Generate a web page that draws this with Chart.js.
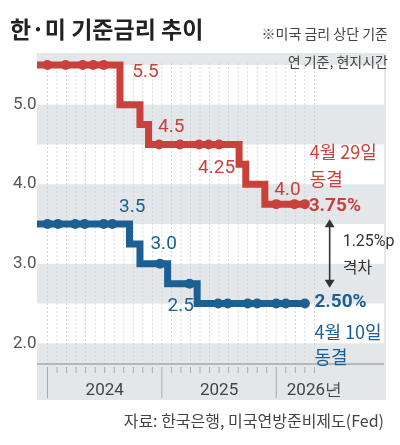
<!DOCTYPE html>
<html><head><meta charset="utf-8">
<script src="https://cdn.jsdelivr.net/npm/chart.js@4"></script>
<style>html,body{margin:0;padding:0;background:#fff}#wrap{width:400px;height:445px}</style>
</head><body><div id="wrap"><canvas id="c" width="400" height="445"></canvas></div>
<script>
// x = months since Jan 2024
const usX = [-1.1, 7.6, 7.6, 9.7, 9.7, 10.6, 10.6, 20.1, 20.1, 20.8, 20.8, 22.8, 22.8, 27];
const usY = [5.5, 5.5, 5.0, 5.0, 4.75, 4.75, 4.5, 4.5, 4.25, 4.25, 4.0, 4.0, 3.75, 3.75];
const usDotX = [0, 1.9, 3.7, 4.8, 5.9, 11.7, 13.9, 15.9, 16.9, 18, 24, 25.9, 27];
const usDotY = [5.5, 5.5, 5.5, 5.5, 5.5, 4.5, 4.5, 4.5, 4.5, 4.5, 3.75, 3.75, 3.75];
const krX = [-1.1, 8.6, 8.6, 9.7, 9.7, 12.6, 12.6, 15.7, 15.7, 27];
const krY = [3.5, 3.5, 3.25, 3.25, 3.0, 3.0, 2.75, 2.75, 2.5, 2.5];
const krDotX = [0, 1.1, 2.9, 3.9, 5.9, 6.8, 11.8, 14.9, 17.9, 18.9, 21, 22, 24, 25, 27];
const krDotY = [3.5, 3.5, 3.5, 3.5, 3.5, 3.5, 3.0, 2.75, 2.5, 2.5, 2.5, 2.5, 2.5, 2.5, 2.5];
const yTicks = [5.0, 4.0, 3.0, 2.0];
const years = ['2024', '2025', '2026년'];

const RED = '#c8413b', BLUE = '#1c6093';
const NUM = '"Liberation Sans Narrow", "Roboto", sans-serif';
const KR = '"Noto Sans CJK KR", sans-serif';

const pts = (xs, ys) => xs.map((x, i) => ({x: x, y: ys[i]}));

const labels = [
  {t: '5.5', x: 8.9, y: 5.41, c: RED, f: NUM, s: 19},
  {t: '4.5', x: 11.6, y: 4.72, c: RED, f: NUM, s: 19},
  {t: '4.25', x: 15.8, y: 4.2, c: RED, f: NUM, s: 19},
  {t: '4.0', x: 23.8, y: 3.93, c: RED, f: NUM, s: 19},
  {t: '4월 29일', x: 27.5, y: 4.4, c: RED, f: KR, s: 18},
  {t: '동결', x: 27.5, y: 4.06, c: RED, f: KR, s: 18},
  {t: '3.75%', x: 27.4, y: 3.72, c: RED, f: NUM, s: 19, b: true},
  {t: '3.5', x: 7.5, y: 3.71, c: BLUE, f: NUM, s: 19},
  {t: '3.0', x: 10.8, y: 3.24, c: BLUE, f: NUM, s: 19},
  {t: '2.5', x: 12.6, y: 2.46, c: BLUE, f: NUM, s: 19},
  {t: '2.50%', x: 28, y: 2.52, c: BLUE, f: NUM, s: 19, b: true},
  {t: '4월 10일', x: 28, y: 2.14, c: BLUE, f: KR, s: 18},
  {t: '동결', x: 28, y: 1.83, c: BLUE, f: KR, s: 18}
];

const deco = {
  id: 'deco',
  beforeDraw(chart) {
    const {ctx, chartArea: a, scales: {x, y}} = chart;
    ctx.save();
    ctx.fillStyle = '#e4e7ea';
    ctx.fillRect(a.left, a.top, a.right - a.left + 2, 400 - a.top);
    ctx.fillStyle = '#ffffff';
    [5.5, 4.5, 3.5, 2.5].forEach(v => {
      ctx.fillRect(a.left, y.getPixelForValue(v), a.right - a.left, y.getPixelForValue(v - 0.5) - y.getPixelForValue(v));
    });
    // dashed monthly grid
    ctx.strokeStyle = '#c9ced3';
    ctx.lineWidth = 0.8;
    ctx.setLineDash([2, 2]);
    for (let m = 0; m <= 28; m++) {
      const px = x.getPixelForValue(m);
      ctx.beginPath(); ctx.moveTo(px, a.top + 10); ctx.lineTo(px, a.bottom); ctx.stroke();
    }
    ctx.setLineDash([]);
    // axis
    ctx.strokeStyle = '#888';
    ctx.lineWidth = 1;
    ctx.beginPath(); ctx.moveTo(a.left, a.bottom); ctx.lineTo(a.right, a.bottom); ctx.stroke();
    ctx.strokeStyle = '#aaa';
    for (let m = 0; m <= 28; m++) {
      const px = x.getPixelForValue(m);
      ctx.beginPath(); ctx.moveTo(px, a.bottom + 3); ctx.lineTo(px, a.bottom + (m % 12 === 0 ? 34 : 9)); ctx.stroke();
    }
    ctx.fillStyle = '#444';
    ctx.font = '17px ' + NUM;
    ctx.textAlign = 'center'; ctx.textBaseline = 'middle';
    years.forEach((t, i) => ctx.fillText(t, x.getPixelForValue(i * 12 + (i === 2 ? 4 : 6)), a.bottom + 27));
    ctx.fillStyle = '#555';
    ctx.textAlign = 'left';
    yTicks.forEach(v => ctx.fillText(v.toFixed(1), 13, y.getPixelForValue(v)));
    ctx.restore();
  },
  afterDraw(chart) {
    const {ctx, scales: {x, y}} = chart;
    ctx.save();
    ctx.textBaseline = 'middle'; ctx.textAlign = 'left';
    labels.forEach(l => {
      ctx.fillStyle = l.c;
      ctx.font = (l.b ? 'bold ' : '') + l.s + 'px ' + l.f;
      ctx.fillText(l.t, x.getPixelForValue(l.x), y.getPixelForValue(l.y));
    });
    // gap arrow
    const ax = x.getPixelForValue(29.6), y1 = y.getPixelForValue(3.56), y2 = y.getPixelForValue(2.7);
    ctx.strokeStyle = '#333'; ctx.fillStyle = '#333'; ctx.lineWidth = 1.6;
    ctx.beginPath(); ctx.moveTo(ax, y1 + 4); ctx.lineTo(ax, y2 - 4); ctx.stroke();
    ctx.beginPath(); ctx.moveTo(ax, y1); ctx.lineTo(ax - 5, y1 + 8); ctx.lineTo(ax + 5, y1 + 8); ctx.fill();
    ctx.beginPath(); ctx.moveTo(ax, y2); ctx.lineTo(ax - 5, y2 - 8); ctx.lineTo(ax + 5, y2 - 8); ctx.fill();
    ctx.font = '16px ' + NUM;
    ctx.fillText('1.25%p', ax + 13, y.getPixelForValue(3.27));
    ctx.font = '16px ' + KR;
    ctx.fillText('격차', ax + 13, y.getPixelForValue(2.96));
    // title & notes
    ctx.fillStyle = '#222';
    ctx.font = 'bold 23px ' + KR;
    ctx.fillText('한·미 기준금리 추이', 10, 29);
    ctx.fillStyle = '#444';
    ctx.font = '14px ' + KR;
    ctx.textAlign = 'right';
    ctx.fillText('※미국 금리 상단 기준', 388, 34);
    ctx.fillText('연 기준, 현지시간', 388, 62);
    ctx.font = '16px ' + KR;
    ctx.fillText('자료: 한국은행, 미국연방준비제도(Fed)', 384, 421);
    ctx.restore();
  }
};

new Chart(document.getElementById('c'), {
  type: 'scatter',
  data: {
    datasets: [
      {data: pts(usX, usY), showLine: true, borderColor: RED, borderWidth: 7, pointRadius: 0, borderJoinStyle: 'miter', order: 2},
      {data: pts(krX, krY), showLine: true, borderColor: BLUE, borderWidth: 7, pointRadius: 0, borderJoinStyle: 'miter', order: 2},
      {data: pts(usDotX, usDotY), backgroundColor: RED, borderWidth: 0, pointRadius: 5, order: 1},
      {data: pts(krDotX, krDotY), backgroundColor: BLUE, borderWidth: 0, pointRadius: 5, order: 1}
    ]
  },
  options: {
    responsive: false, animation: false, events: [],
    layout: {padding: {left: 37, right: 16, top: 53, bottom: 81}},
    plugins: {legend: {display: false}, tooltip: {enabled: false}},
    scales: {
      x: {type: 'linear', min: -1.1, max: 35.3, display: false},
      y: {min: 1.74, max: 5.65, display: false}
    }
  },
  plugins: [deco]
});
</script></body></html>
